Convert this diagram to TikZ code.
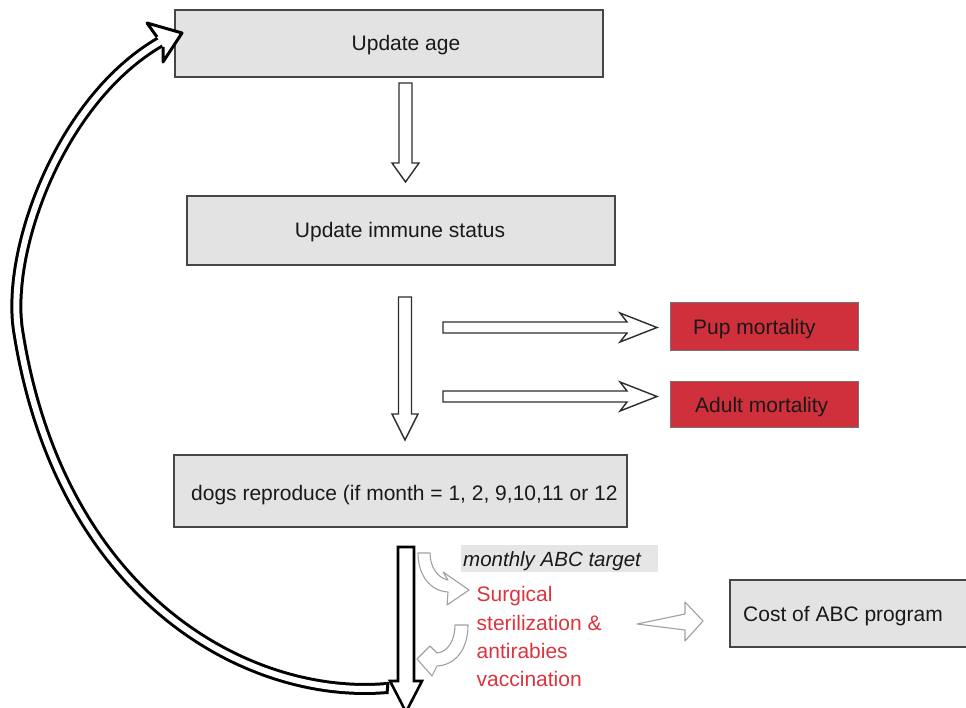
\documentclass[tikz,border=0pt]{standalone}
\usepackage{fontspec}
\setmainfont{Liberation Sans}
\definecolor{boxfill}{RGB}{227,227,227}
\definecolor{boxline}{RGB}{70,70,70}
\definecolor{mortred}{RGB}{208,48,60}
\definecolor{redtext}{RGB}{220,52,62}
\definecolor{garr}{RGB}{160,160,160}
\definecolor{arrline}{RGB}{45,45,45}
\definecolor{tgtfill}{RGB}{230,230,230}
\begin{document}
\begin{tikzpicture}[x=1pt,y=1pt,
 lbl/.style={font=\fontsize{21}{25}\selectfont, inner sep=0pt, text=black!90},
 redlbl/.style={font=\fontsize{21}{25}\selectfont, inner sep=0pt, text=redtext, anchor=base west},
 graybox/.style={draw=boxline, fill=boxfill, line width=1.3pt, inner sep=0pt},
 redbox/.style={draw=black!55, fill=mortred, line width=1pt, inner sep=0pt},
 blockarr/.style={draw=arrline, fill=white, line width=1.4pt, line join=miter},
 bigarr/.style={draw=black, fill=white, line width=2.6pt, line join=miter},
 grayarr/.style={draw=garr, fill=white, line width=1.1pt, line join=round},
 loopline/.style={draw=black, line width=3pt, double=white, double distance=6pt},
]
\useasboundingbox (0,0) rectangle (966,-708);
\clip (0,0) rectangle (966,-708);

% boxes
\node[graybox, minimum width=428pt, minimum height=67pt] (age) at (389,-43.5) {};
\node[lbl, anchor=base] (agetxt) at (406,-51) {Update age};
\node[graybox, minimum width=428pt, minimum height=69pt] (immune) at (401,-230.5) {};
\node[lbl, anchor=base] (immunetxt) at (400,-238) {Update immune status};
\node[redbox, minimum width=188pt, minimum height=48pt] (pup) at (764,-327) {};
\node[lbl, anchor=base west] (puptxt) at (693,-334.5) {Pup mortality};
\node[redbox, minimum width=188pt, minimum height=46pt] (adult) at (764,-404.5) {};
\node[lbl, anchor=base west] (adulttxt) at (695,-412) {Adult mortality};
\node[graybox, minimum width=453pt, minimum height=72pt] (repro) at (400.5,-491) {};
\node[lbl, anchor=base west] (reprotxt) at (191,-500) {dogs reproduce (if month = 1, 2, 9,10,11 or 12};
\fill[boxfill] (730,-580) rectangle (966,-647);
\draw[boxline, line width=1.3pt] (966,-580) -- (730,-580) -- (730,-647) -- (966,-647);
\node[lbl, anchor=base west] (cost) at (743,-621) {Cost of ABC program};
\node[fill=tgtfill, minimum width=197pt, minimum height=27pt, inner sep=0pt] (target) at (559.5,-558.5) {};
\node[lbl, anchor=base west, font=\fontsize{20.5}{25}\selectfont\itshape] (targettxt) at (463,-566) {monthly ABC target};
\node[redlbl] (surg) at (476.5,-601.5) {Surgical};
\node[redlbl] (surg2) at (476.5,-630) {sterilization \&};
\node[redlbl] (surg3) at (476.5,-658) {antirabies};
\node[redlbl] (surg4) at (476.5,-686) {vaccination};

% block arrows
\draw[blockarr] (399,-83) -- (412,-83) -- (412,-163) -- (419,-163) -- (405.5,-182) -- (392,-163) -- (399,-163) -- cycle;
\draw[blockarr] (398.5,-297) -- (411.5,-297) -- (411.5,-414) -- (418,-414) -- (405,-440) -- (392,-414) -- (398.5,-414) -- cycle;
\draw[blockarr] (443,-322) -- (627,-322) -- (620,-313) -- (657,-327.5) -- (620,-342) -- (627,-333) -- (443,-333) -- cycle;
\draw[blockarr] (443,-391) -- (627,-391) -- (620,-382) -- (657,-396.5) -- (620,-411) -- (627,-402) -- (443,-402) -- cycle;

% loop arrow
\coordinate (loopend) at (387,-688);
\coordinate (loopleft) at (18,-330);
\coordinate (loophead) at (160,-42);
\draw[loopline] (loopend) .. controls (250,-700) and (60,-600) .. (loopleft)
  .. controls (6,-250) and (60,-100) .. (loophead);
\filldraw[draw=black, fill=white, line width=3pt, line join=round] (157,-37) -- (147,-23) -- (182,-33) -- (163,-62) -- (163,-47);
\draw[line width=3pt] (388,-682) -- (387,-694);

% big down arrow
\draw[bigarr] (398,-547) -- (414,-547) -- (414,-681) -- (422,-681) -- (406,-712) -- (390,-681) -- (398,-681) -- cycle;

% gray arrows
\draw[grayarr] (418,-553) .. controls (418,-575) and (430,-591) .. (448,-592) -- (447,-605) -- (469,-590) -- (443,-572) -- (448,-580) .. controls (437,-578) and (430,-566) .. (430,-553) -- cycle;
\draw[grayarr] (468,-625) .. controls (468,-650) and (455,-665) .. (437,-666) -- (432,-676) -- (417,-659) -- (430,-646) -- (437,-653) .. controls (448,-652) and (455,-640) .. (455,-625) -- cycle;
\draw[grayarr] (637,-624) -- (685,-614) -- (685,-602) -- (703,-621) -- (685,-641) -- (685,-630) -- cycle;
\end{tikzpicture}
\end{document}
